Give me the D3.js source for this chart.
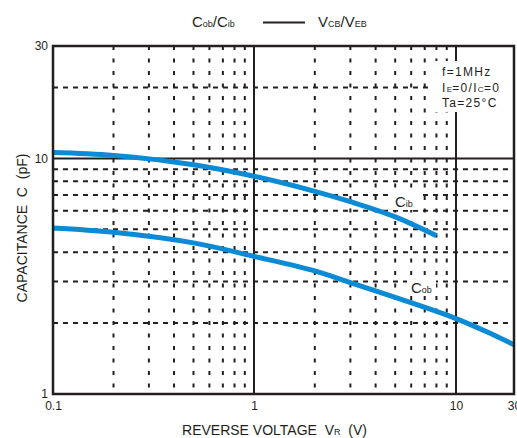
<!DOCTYPE html>
<html>
<head>
<meta charset="utf-8">
<script src="https://cdn.jsdelivr.net/npm/d3@7"></script>
<style>
  html, body { margin: 0; padding: 0; background: #fff; }
  svg { display: block; font-family: "Liberation Sans", Arial, sans-serif; }
  text { fill: #231f20; white-space: pre; }
</style>
</head>
<body>
<svg id="chart" width="517" height="438"></svg>
<script>
// Reverse voltage (V) and capacitance (pF) readings
const cibVoltage = [0.1, 0.2, 0.5, 1, 2, 3, 5, 8];
const cibValues  = [10.6, 10.3, 9.4, 8.4, 7.25, 6.55, 5.65, 4.7];
const cobVoltage = [0.1, 0.2, 0.5, 1, 2, 3, 5, 10, 20, 30];
const cobValues  = [5.07, 4.86, 4.38, 3.84, 3.33, 2.97, 2.57, 2.09, 1.79, 1.62];

// Axis ticks and grid
const xTickValues = [0.1, 1, 10, 30];
const xTickLabels = ["0.1", "1", "10", "30"];
const yTickValues = [1, 10, 30];
const yTickLabels = ["1", "10", "30"];
const xMinorGrid = [0.2, 0.3, 0.4, 0.5, 0.6, 0.7, 0.8, 0.9, 2, 3, 4, 5, 6, 7, 8, 9];
const yMinorGrid = [2, 3, 4, 5, 6, 7, 8, 9, 20];
const xMajorGrid = [1, 10];
const yMajorGrid = [10];

const conditions = [
  [{t: "f=1MHz"}],
  [{t: "I"}, {t: "E", sub: true}, {t: "=0/I"}, {t: "C", sub: true}, {t: "=0"}],
  [{t: "Ta=25°C"}]
];

const ink = "#231f20";
const blue = "#0b8ad6";

const plotLeft = 53, plotRight = 514, plotTop = 46, plotBottom = 394;

const svg = d3.select("#chart");

// The 10–30 V span of the printed axis is drawn compressed
const x = d3.scaleLog().domain([0.1, 1, 10, 30]).range([plotLeft, 254, 456, plotRight]);
const y = d3.scaleLog().domain([1, 30]).range([plotBottom, plotTop]);

// Dashed minor grid
const grid = svg.append("g");
grid.selectAll("line.vx").data(xMinorGrid).join("line")
  .attr("x1", d => x(d)).attr("x2", d => x(d))
  .attr("y1", plotTop).attr("y2", plotBottom)
  .attr("stroke", ink).attr("stroke-width", 2).attr("stroke-dasharray", "4,8.5");
grid.selectAll("line.hy").data(yMinorGrid).join("line")
  .attr("x1", plotLeft).attr("x2", plotRight)
  .attr("y1", d => y(d)).attr("y2", d => y(d))
  .attr("stroke", ink).attr("stroke-width", 2).attr("stroke-dasharray", "5,5");

// Solid decade lines
grid.selectAll("line.mx").data(xMajorGrid).join("line")
  .attr("x1", d => x(d)).attr("x2", d => x(d))
  .attr("y1", plotTop).attr("y2", plotBottom)
  .attr("stroke", ink).attr("stroke-width", 2);
grid.selectAll("line.my").data(yMajorGrid).join("line")
  .attr("x1", plotLeft).attr("x2", plotRight)
  .attr("y1", d => y(d)).attr("y2", d => y(d))
  .attr("stroke", ink).attr("stroke-width", 2);

// Conditions block, knocked out of the grid
svg.append("rect").attr("x", 430).attr("y", 61).attr("width", 82).attr("height", 51).attr("fill", "#fff");
const cond = svg.append("g").attr("font-size", 12).attr("letter-spacing", 1.3);
conditions.forEach((parts, i) => {
  const t = cond.append("text").attr("x", 442).attr("y", 76 + i * 15.5);
  parts.forEach(p => {
    const s = t.append("tspan").text(p.t);
    if (p.sub) s.attr("font-size", 8).attr("letter-spacing", 0.3);
  });
});

// Curve labels
function curveLabel(cx, cy, sub) {
  svg.append("rect").attr("x", cx - 4).attr("y", cy - 15).attr("width", 29).attr("height", 18).attr("fill", "#fff");
  const t = svg.append("text").attr("x", cx).attr("y", cy).attr("font-size", 15);
  t.append("tspan").text("C");
  t.append("tspan").attr("font-size", 9).text(sub);
}
curveLabel(395, 207, "ib");
curveLabel(411, 293, "ob");

// Capacitance curves
const line = d3.line().curve(d3.curveCatmullRom.alpha(0.5)).x(d => x(d[0])).y(d => y(d[1]));
svg.append("path").datum(d3.zip(cibVoltage, cibValues)).attr("d", line)
  .attr("fill", "none").attr("stroke", blue).attr("stroke-width", 5);
svg.append("path").datum(d3.zip(cobVoltage, cobValues)).attr("d", line)
  .attr("fill", "none").attr("stroke", blue).attr("stroke-width", 5);

// Frame
svg.append("rect").attr("x", plotLeft).attr("y", plotTop)
  .attr("width", plotRight - plotLeft).attr("height", plotBottom - plotTop)
  .attr("fill", "none").attr("stroke", ink).attr("stroke-width", 2.5);

// Axes
const xAxis = d3.axisBottom(x).tickValues(xTickValues).tickSize(0).tickPadding(7.5)
  .tickFormat((d, i) => xTickLabels[i]);
const yAxis = d3.axisLeft(y).tickValues(yTickValues).tickSize(0).tickPadding(5)
  .tickFormat((d, i) => yTickLabels[i]);
const gx = svg.append("g").attr("transform", `translate(0,${plotBottom})`).call(xAxis);
const gy = svg.append("g").attr("transform", `translate(${plotLeft},0)`).call(yAxis);
[gx, gy].forEach(g => {
  g.select(".domain").remove();
  g.selectAll("text").attr("font-size", 12).attr("font-family", "Liberation Sans, Arial, sans-serif").attr("fill", ink);
});

// Axis titles
const xt = svg.append("text").attr("x", 274.5).attr("y", 435).attr("text-anchor", "middle").attr("font-size", 14);
xt.append("tspan").text("REVERSE VOLTAGE  V");
xt.append("tspan").attr("font-size", 9).text("R");
xt.append("tspan").text("  (V)");

svg.append("text").attr("transform", "translate(27,228) rotate(-90)")
  .attr("text-anchor", "middle").attr("font-size", 14)
  .text("CAPACITANCE  C  (pF)");

// Legend
const lg = svg.append("g").attr("font-size", 15);
const l1 = lg.append("text").attr("x", 192).attr("y", 27);
l1.append("tspan").text("C");
l1.append("tspan").attr("font-size", 9).text("ob");
l1.append("tspan").text("/C");
l1.append("tspan").attr("font-size", 9).text("ib");
lg.append("line").attr("x1", 263).attr("x2", 305).attr("y1", 22.5).attr("y2", 22.5)
  .attr("stroke", ink).attr("stroke-width", 2);
const l2 = lg.append("text").attr("x", 318).attr("y", 27);
l2.append("tspan").text("V");
l2.append("tspan").attr("font-size", 9).text("CB");
l2.append("tspan").text("/V");
l2.append("tspan").attr("font-size", 9).text("EB");
</script>
</body>
</html>
